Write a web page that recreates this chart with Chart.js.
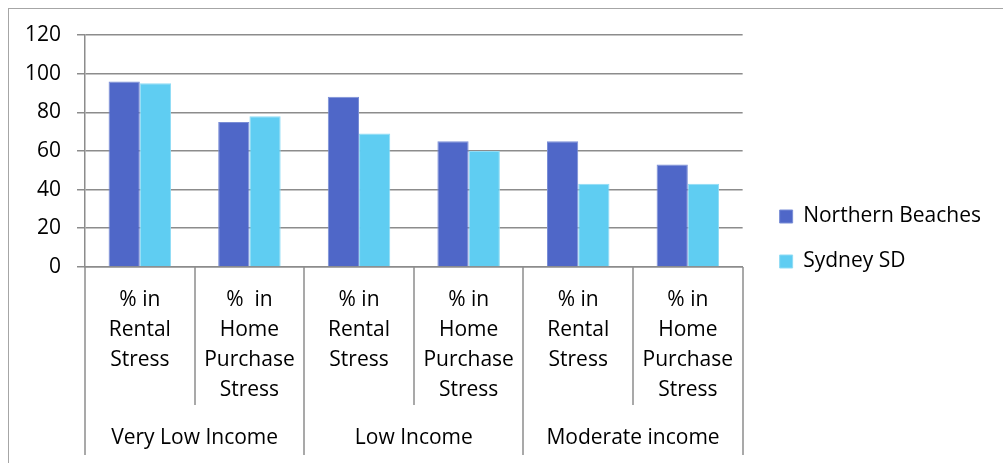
<!DOCTYPE html>
<html>
<head>
<meta charset="utf-8">
<script src="https://cdn.jsdelivr.net/npm/chart.js@4"></script>
<style>
  html, body { margin: 0; padding: 0; background: #fff; }
  #wrap { position: relative; width: 1003px; height: 463px; overflow: hidden; }
  #frame { position: absolute; left: 8px; top: 8px; width: 1000px; height: 470px;
           border-left: 1.5px solid #a6a6a6; border-top: 1.5px solid #a6a6a6; }
  canvas { position: absolute; left: 0; top: 0; }
</style>
</head>
<body>
<div id="wrap">
  <div id="frame"></div>
  <canvas id="myChart" width="1003" height="463"></canvas>
</div>
<script>
// 데이터
const categories = [
  ["% in", "Rental", "Stress"],
  ["%  in", "Home", "Purchase", "Stress"],
  ["% in", "Rental", "Stress"],
  ["% in", "Home", "Purchase", "Stress"],
  ["% in", "Rental", "Stress"],
  ["% in", "Home", "Purchase", "Stress"],
];
const groups = ["Very Low Income", "Low Income", "Moderate income"];
const northernBeaches = [96, 75, 88, 65, 65, 53];
const sydneySD = [95, 78, 69, 60, 43, 43];
const yMax = 120;
const yStep = 20;

const FONT = "'Open Sans', 'Liberation Sans', sans-serif";
const GRID = "#8c8c8c";

// 그룹 라벨과 구분선
const groupPlugin = {
  id: "groupPlugin",
  afterLayout(chart) {
    // 범례를 차트 영역에서 조금 떨어뜨림
    const lg = chart.legend;
    lg.left += 13;
    lg.right += 13;
    lg.top += 14;
    lg.bottom += 14;
  },
  afterDraw(chart) {
    const x = chart.scales.x;
    const top = chart.chartArea.bottom;
    const catW = (x.right - x.left) / categories.length;
    const ctx = chart.ctx;
    ctx.save();
    ctx.strokeStyle = GRID;
    ctx.lineWidth = 1.5;
    for (let i = 0; i <= categories.length; i++) {
      const px = Math.round(x.left + i * catW);
      const end = i % 2 === 0 ? 455 : 405;
      ctx.beginPath();
      ctx.moveTo(px, top);
      ctx.lineTo(px, end);
      ctx.stroke();
    }
    ctx.fillStyle = "#000";
    ctx.font = "21px " + FONT;
    ctx.textAlign = "center";
    ctx.textBaseline = "middle";
    const per = categories.length / groups.length;
    groups.forEach((g, i) => {
      const cx = x.left + (i * per + per / 2) * catW;
      ctx.fillText(g, cx, 438);
    });
    ctx.restore();
  },
};

const ctx = document.getElementById("myChart").getContext("2d");
const myChart = new Chart(ctx, {
  type: "bar",
  data: {
    labels: categories,
    datasets: [
      {
        label: "Northern Beaches",
        data: northernBeaches,
        backgroundColor: "#4f67c8",
        borderColor: "#7a8ed6",
        borderWidth: 1,
      },
      {
        label: "Sydney SD",
        data: sydneySD,
        backgroundColor: "#5fcdf2",
        borderColor: "#8fdcf5",
        borderWidth: 1,
      },
    ],
  },
  options: {
    responsive: false,
    animation: false,
    layout: { padding: { left: 9, top: 35, right: 25, bottom: 48 } },
    datasets: { bar: { categoryPercentage: 0.57, barPercentage: 1.0 } },
    plugins: {
      legend: {
        position: "right",
        labels: {
          boxWidth: 13,
          boxHeight: 13,
          padding: 24,
          color: "#000",
          font: { family: FONT, size: 21 },
        },
      },
      tooltip: { enabled: false },
    },
    scales: {
      x: {
        grid: { display: false },
        border: { display: true, color: GRID, width: 1.5 },
        ticks: {
          color: "#000",
          maxRotation: 0,
          autoSkip: false,
          padding: 10,
          font: { family: FONT, size: 21, lineHeight: 1.43 },
        },
      },
      y: {
        min: 0,
        max: yMax,
        grid: { color: GRID, lineWidth: 1.5, tickLength: 8 },
        border: { display: true, color: GRID, width: 1.5 },
        ticks: {
          stepSize: yStep,
          color: "#000",
          padding: 16,
          font: { family: FONT, size: 21 },
        },
      },
    },
  },
  plugins: [groupPlugin],
});
</script>
</body>
</html>
